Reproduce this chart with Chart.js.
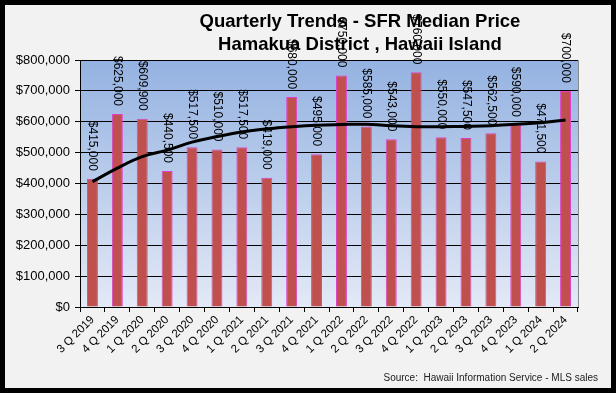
<!DOCTYPE html>
<html>
<head>
<meta charset="utf-8">
<script src="https://cdn.jsdelivr.net/npm/chart.js@4.4.0/dist/chart.umd.min.js"></script>
<style>
  html, body { margin: 0; padding: 0; background: #f2f2f2; }
  #wrap { width: 616px; height: 393px; position: relative; }
</style>
</head>
<body>
<div id="wrap"><canvas id="myChart" width="616" height="393"></canvas></div>
<script>
const quarters = ['3 Q 2019', '4 Q 2019', '1 Q 2020', '2 Q 2020', '3 Q 2020', '4 Q 2020',
  '1 Q 2021', '2 Q 2021', '3 Q 2021', '4 Q 2021', '1 Q 2022', '2 Q 2022', '3 Q 2022',
  '4 Q 2022', '1 Q 2023', '2 Q 2023', '3 Q 2023', '4 Q 2023', '1 Q 2024', '2 Q 2024'];

const medianPrice = [415000, 625000, 609900, 440500, 517500, 510000, 517500, 419000, 680000,
  495000, 750000, 585000, 543000, 760000, 550000, 547500, 562500, 590000, 471500, 700000];

// trendline
const trendLine = [406000, 450000, 487000, 508000, 534000, 552000, 567000, 577000, 584000,
  589000, 591000, 592000, 587000, 584000, 584000, 585000, 587000, 592000, 597000, 606000];

const titleLines = ['Quarterly Trends - SFR Median Price', 'Hamakua District , Hawaii Island'];
const sourceText = 'Source:  Hawaii Information Service - MLS sales';

const money = v => '$' + v.toLocaleString('en-US');

const frame = {
  id: 'frame',
  beforeDraw(chart) {
    const c = chart.ctx, a = chart.chartArea;
    c.save();
    c.fillStyle = '#f2f2f2';
    c.fillRect(0, 0, chart.width, chart.height);
    const g = c.createLinearGradient(0, a.top, 0, a.bottom);
    g.addColorStop(0, '#94b2e1');
    g.addColorStop(1, '#e3e9f6');
    c.fillStyle = g;
    c.fillRect(a.left, a.top, a.right - a.left, a.bottom - a.top);
    c.strokeStyle = '#8a8a8a';
    c.lineWidth = 1;
    c.beginPath();
    c.moveTo(a.left, a.top + 0.5);
    c.lineTo(a.right + 0.5, a.top + 0.5);
    c.lineTo(a.right + 0.5, a.bottom);
    c.stroke();
    c.restore();
  },
  afterDraw(chart) {
    const c = chart.ctx;
    c.save();
    // title
    c.fillStyle = '#000';
    c.textBaseline = 'middle';
    c.font = 'bold 18.5px "Liberation Sans", Arial, sans-serif';
    c.textAlign = 'center';
    c.fillText(titleLines[0], 360, 22);
    c.fillText(titleLines[1], 360, 45);
    // bar value labels
    const meta = chart.getDatasetMeta(0);
    c.font = '12px "Liberation Sans", Arial, sans-serif';
    c.textAlign = 'right';
    meta.data.forEach((bar, i) => {
      c.save();
      c.translate(bar.x, bar.y - 8);
      c.rotate(Math.PI / 2);
      c.fillText(money(medianPrice[i]), 0, 0);
      c.restore();
    });
    // source
    c.font = '10px "Liberation Sans", Arial, sans-serif';
    c.textAlign = 'right';
    c.fillStyle = '#222';
    c.fillText(sourceText, 598, 378);
    // outer border
    c.strokeStyle = '#000';
    c.lineWidth = 5;
    c.strokeRect(2.5, 2.5, chart.width - 5, chart.height - 5);
    c.restore();
  }
};

const ctx = document.getElementById('myChart');

var myChart = new Chart(ctx, {
  type: 'bar',
  data: {
    labels: quarters,
    datasets: [
      {
        label: 'Median Price',
        data: medianPrice,
        backgroundColor: '#c0504d',
        borderColor: '#e040c8',
        borderWidth: 1,
        barPercentage: 0.44,
        categoryPercentage: 1,
        order: 2,
      },
      {
        type: 'line',
        label: 'Trend',
        data: trendLine,
        borderColor: '#000',
        borderWidth: 3,
        pointRadius: 0,
        tension: 0.4,
        fill: false,
        order: 1,
      },
    ],
  },
  options: {
    responsive: false,
    animation: false,
    layout: { padding: { top: 60, right: 38, left: 0, bottom: 0 } },
    plugins: {
      legend: { display: false },
      tooltip: { enabled: false },
    },
    scales: {
      x: {
        grid: { drawOnChartArea: false, color: '#000', tickLength: 5 },
        border: { color: '#000' },
        ticks: {
          color: '#000',
          font: { family: '"Liberation Sans", Arial, sans-serif', size: 11.5 },
          maxRotation: 45,
          minRotation: 45,
          autoSkip: false,
          padding: 1,
        },
        afterFit(scale) { scale.height = 86; },
      },
      y: {
        min: 0,
        max: 800000,
        grid: { color: '#000', tickLength: 5 },
        border: { color: '#000' },
        ticks: {
          stepSize: 100000,
          color: '#000',
          font: { family: '"Liberation Sans", Arial, sans-serif', size: 13 },
          padding: 5,
          callback: v => money(v),
        },
        afterFit(scale) { scale.width = 80; },
      },
    },
  },
  plugins: [frame],
});
</script>
</body>
</html>
